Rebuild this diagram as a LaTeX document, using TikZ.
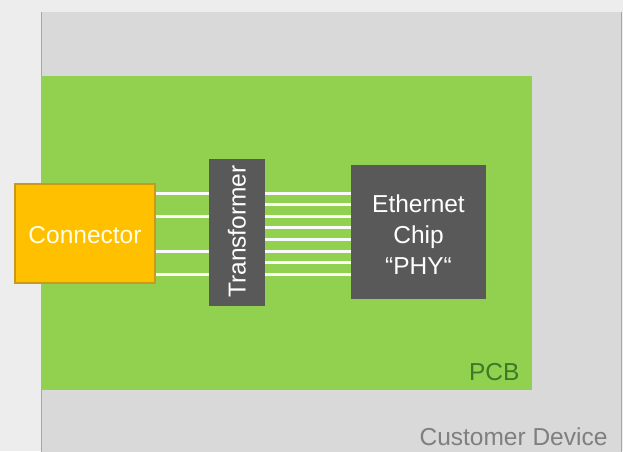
\documentclass[tikz,border=0pt]{standalone}
\usepackage{fontspec}
\setmainfont{Liberation Sans}
\definecolor{bggray}{HTML}{EDEDED}
\definecolor{devgray}{HTML}{D9D9D9}
\definecolor{edgegray}{HTML}{A6A6A6}
\definecolor{pcbgreen}{HTML}{92D050}
\definecolor{pcbtext}{HTML}{3B7A27}
\definecolor{chipgray}{HTML}{595959}
\definecolor{connyellow}{HTML}{FFC000}
\definecolor{connedge}{HTML}{C99A1A}
\definecolor{devtext}{HTML}{7F7F7F}
\begin{document}
\begin{tikzpicture}[x=1pt, y=-1pt,
  big/.style={font=\fontsize{24.5}{31}\selectfont},
  block/.style={fill=chipgray, text=white, inner sep=0pt, big},
  trace/.style={draw=white!95!gray, line width=3pt}]
\useasboundingbox[fill=bggray] (0,0) rectangle (623,451);
% customer device and board
\node[fill=devgray, minimum width=580, minimum height=450, inner sep=0pt, anchor=north west] (device) at (41,12) {};
\draw[edgegray, line width=1pt] (device.north west) -- (device.south west);
\draw[edgegray, line width=1pt] (device.north east) -- (device.south east);
\node[fill=pcbgreen, minimum width=491, minimum height=314, inner sep=0pt, anchor=north west] (pcb) at (41,76) {};
\node[big, text=pcbtext, anchor=east] (pcblabel) at (523,372) {PCB};
\node[big, text=devtext, anchor=east] (devlabel) at (611,437) {Customer Device};
% parts
\node[fill=connyellow, draw=connedge, line width=2pt, minimum width=140, minimum height=99, inner sep=0pt] (conn) at (84.5,233) {};
\node[big, text=white!92!yellow] (connlabel) at (85,235) {Connector};
\node[block, minimum width=56, minimum height=147] (trafo) at (237,232.5) {};
\node[big, text=white, rotate=90] (trafolabel) at (237,231.5) {Transformer};
\node[block, minimum width=135, minimum height=134] (phy) at (418.5,232) {};
\node[big, text=white, align=center] (phylabel) at (418.5,235) {Ethernet\\Chip\\“PHY“};
% traces
\foreach \y in {193,216,251,274}
  \draw[trace] (conn.east |- 0,\y) -- (trafo.west |- 0,\y);
\foreach \y in {193,204.6,216.2,227.8,239.4,251,262.6,274.2}
  \draw[trace] (trafo.east |- 0,\y) -- (phy.west |- 0,\y);
\end{tikzpicture}
\end{document}
